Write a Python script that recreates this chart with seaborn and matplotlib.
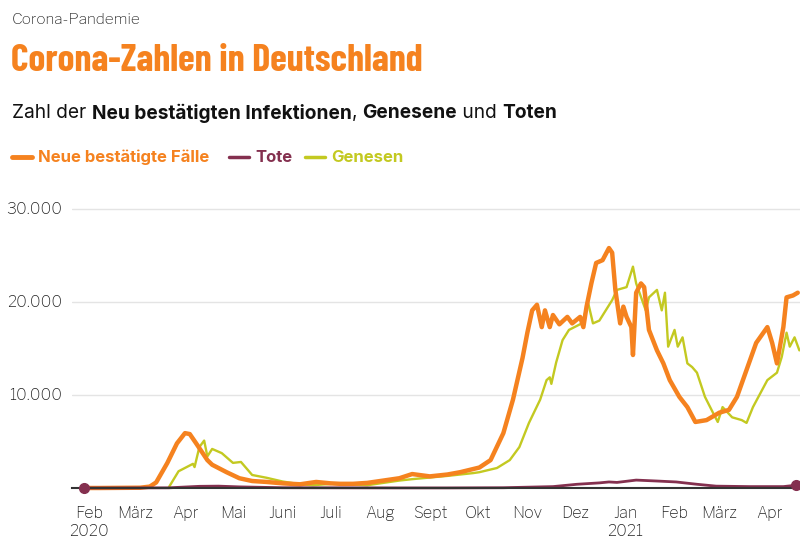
import matplotlib
matplotlib.use("Agg")
import matplotlib.pyplot as plt
from matplotlib.transforms import IdentityTransform
from matplotlib.lines import Line2D
import pandas as pd
import seaborn as sns

# Neue bestätigte Fälle (7-Tage-Mittel)
faelle_datum = [
    "2020-01-29", "2020-02-08", "2020-03-04", "2020-03-10", "2020-03-14", "2020-03-21",
    "2020-03-27", "2020-04-01", "2020-04-04", "2020-04-08", "2020-04-15", "2020-04-18",
    "2020-04-27", "2020-05-05", "2020-05-13", "2020-05-22", "2020-06-01", "2020-06-12",
    "2020-06-22", "2020-07-01", "2020-07-07", "2020-07-15", "2020-07-24", "2020-08-01",
    "2020-08-13", "2020-08-21", "2020-09-01", "2020-09-12", "2020-09-20", "2020-10-02",
    "2020-10-09", "2020-10-17", "2020-10-23", "2020-10-29", "2020-11-01", "2020-11-04",
    "2020-11-07", "2020-11-10", "2020-11-12", "2020-11-15", "2020-11-17", "2020-11-21",
    "2020-11-26", "2020-11-29", "2020-12-04", "2020-12-06", "2020-12-08", "2020-12-11",
    "2020-12-14", "2020-12-18", "2020-12-22", "2020-12-24", "2020-12-26", "2020-12-29",
    "2020-12-31", "2021-01-02", "2021-01-05", "2021-01-06", "2021-01-08", "2021-01-11",
    "2021-01-13", "2021-01-16", "2021-01-21", "2021-01-25", "2021-01-29", "2021-02-04",
    "2021-02-09", "2021-02-14", "2021-02-21", "2021-03-01", "2021-03-07", "2021-03-12",
    "2021-03-18", "2021-03-24", "2021-03-31", "2021-04-03", "2021-04-06", "2021-04-10",
    "2021-04-12", "2021-04-16", "2021-04-19",
]
faelle = [
    0, 0, 30, 150, 600, 2700,
    4800, 5900, 5800, 4800, 3000, 2500,
    1700, 1050, 750, 650, 500, 400,
    650, 500, 450, 450, 550, 750,
    1050, 1500, 1250, 1450, 1700, 2200,
    3000, 5900, 9500, 14000, 16700, 19100,
    19700, 17300, 19100, 17300, 18600, 17600,
    18400, 17700, 18400, 17300, 19500, 22000,
    24200, 24500, 25800, 25300, 21300, 17700,
    19500, 18400, 17300, 14300, 21000, 22000,
    21600, 17000, 14800, 13400, 11600, 9800,
    8700, 7100, 7300, 8100, 8400, 9800,
    12700, 15600, 17300, 15600, 13400, 17300,
    20500, 20700, 21000,
]

# Genesene
genesen_datum = [
    "2020-03-22", "2020-03-28", "2020-04-06", "2020-04-07", "2020-04-10", "2020-04-13",
    "2020-04-15", "2020-04-18", "2020-04-24", "2020-05-01", "2020-05-06", "2020-05-13",
    "2020-05-22", "2020-06-01", "2020-06-12", "2020-06-20", "2020-07-02", "2020-07-24",
    "2020-08-01", "2020-08-13", "2020-08-21", "2020-09-12", "2020-09-28", "2020-10-02",
    "2020-10-13", "2020-10-21", "2020-10-27", "2020-11-02", "2020-11-09", "2020-11-13",
    "2020-11-15", "2020-11-16", "2020-11-19", "2020-11-23", "2020-11-27", "2020-12-05",
    "2020-12-09", "2020-12-12", "2020-12-16", "2020-12-24", "2020-12-27", "2021-01-02",
    "2021-01-06", "2021-01-08", "2021-01-14", "2021-01-16", "2021-01-21", "2021-01-24",
    "2021-01-26", "2021-01-28", "2021-02-01", "2021-02-03", "2021-02-06", "2021-02-09",
    "2021-02-12", "2021-02-15", "2021-02-20", "2021-02-25", "2021-02-28", "2021-03-03",
    "2021-03-09", "2021-03-15", "2021-03-18", "2021-03-22", "2021-03-31", "2021-04-06",
    "2021-04-09", "2021-04-12", "2021-04-14", "2021-04-17", "2021-04-20",
]
genesen = [
    100, 1800, 2600, 2250, 4400, 5100,
    3400, 4200, 3750, 2700, 2800, 1400,
    1100, 700, 400, 300, 450, 300,
    500, 800, 950, 1300, 1600, 1700,
    2150, 3000, 4400, 7000, 9500, 11600,
    11900, 11200, 13500, 15900, 17000, 17700,
    19900, 17700, 18000, 20200, 21300, 21600,
    23800, 22000, 19100, 20500, 21300, 19100,
    21000, 15200, 17000, 15200, 16200, 13400,
    13000, 12400, 9800, 8100, 7100, 8700,
    7600, 7300, 7000, 8700, 11600, 12400,
    14100, 16700, 15200, 16200, 14800,
]

# Tote
tote_datum = [
    "2020-01-29", "2020-03-22", "2020-04-10", "2020-04-22", "2020-05-05", "2020-06-01",
    "2020-08-13", "2020-09-12", "2020-10-17", "2020-11-17", "2020-12-02", "2020-12-16",
    "2020-12-22", "2020-12-27", "2021-01-08", "2021-01-21", "2021-02-02", "2021-02-15",
    "2021-02-27", "2021-03-20", "2021-04-10", "2021-04-18",
]
tote = [
    0, 20, 180, 200, 120, 30,
    10, 10, 30, 150, 400, 550,
    650, 600, 850, 750, 650, 400,
    200, 150, 150, 300,
]

monate = ["Feb\n2020", "März", "Apr", "Mai", "Juni", "Juli", "Aug", "Sept", "Okt",
          "Nov", "Dez", "Jan\n2021", "Feb", "März", "Apr"]
y_ticks = [10000, 20000, 30000]
y_labels = ["10.000", "20.000", "30.000"]

ORANGE = "#f5821f"
TOTE = "#84304f"
GRUEN = "#c3c921"
DUNKEL = "#333333"

sns.set_style("white")
plt.rcParams['font.family'] = ['Libre Franklin', 'DejaVu Sans']
TITEL_FONT = ['Barlow Condensed', 'Roboto Condensed', 'DejaVu Sans']
TEXT_FONT = ['Inter', 'Roboto', 'DejaVu Sans']

fig = plt.figure(figsize=(8, 5.47), dpi=100)
ax = fig.add_axes([72 / 800, 59 / 547, 728 / 800, 288 / 547])

serien = [
    (genesen_datum, genesen, GRUEN, 1.7),
    (faelle_datum, faelle, ORANGE, 3.2),
    (tote_datum, tote, TOTE, 2.0),
]
for datum, werte, farbe, lw in serien:
    df = pd.DataFrame({"datum": pd.to_datetime(datum), "wert": werte})
    sns.lineplot(data=df, x="datum", y="wert", color=farbe, lw=lw, ax=ax, clip_on=False)

t = pd.to_datetime(tote_datum)
ax.plot([t[0], t[-1]], [tote[0], tote[-1]], "o", color=TOTE, ms=7, clip_on=False, zorder=5)

x0 = pd.Timestamp("2020-02-01")
ax.set_xlim(x0 + pd.Timedelta(days=-10.6), x0 + pd.Timedelta(days=444.4))
ax.set_ylim(0, 30968)

ax.set_yticks(y_ticks)
ax.set_yticklabels(y_labels)
ax.set_xticks(pd.date_range("2020-02-01", "2021-04-01", freq="MS"))
ax.set_xticklabels(monate, linespacing=1.25)
ax.set_xlabel("")
ax.set_ylabel("")

ax.grid(axis="y", color="#e4e4e4", lw=1)
ax.grid(axis="x", visible=False)
ax.set_axisbelow(True)
for s in ["left", "right", "top"]:
    ax.spines[s].set_visible(False)
ax.spines["bottom"].set_color(DUNKEL)
ax.spines["bottom"].set_linewidth(1.5)

ax.tick_params(axis="x", length=6, width=1.2, color=DUNKEL, pad=7, labelsize=11.5, labelcolor="#222222")
ax.tick_params(axis="y", length=0, pad=7, labelsize=11.5, labelcolor="#222222")
for lab in ax.get_yticklabels():
    lab.set_verticalalignment("center")

# Kopfzeilen in Pixelkoordinaten
H = 547
ident = IdentityTransform()
renderer = fig.canvas.get_renderer()

fig.text(12, H - 20, "Corona-Pandemie", transform=ident, fontsize=11, color="#222222", va="center")
fig.text(11, H - 61, "Corona-Zahlen in Deutschland", transform=ident, fontsize=27.4,
         fontweight="bold", color=ORANGE, va="center", family=TITEL_FONT)


def zeile(x, y, teile, size):
    for text, weight, farbe in teile:
        tx = fig.text(x, y, text, transform=ident, fontsize=size, fontweight=weight,
                      color=farbe, va="center", family=TEXT_FONT)
        x += tx.get_window_extent(renderer).width
    return x


zeile(12, H - 113, [
    ("Zahl der ", "normal", "#111111"),
    ("Neu bestätigten Infektionen", "bold", "#111111"),
    (", ", "normal", "#111111"),
    ("Genesene", "bold", "#111111"),
    (" und ", "normal", "#111111"),
    ("Toten", "bold", "#111111"),
], 13.75)

legende = [("Neue bestätigte Fälle", ORANGE, 12, 3.5), ("Tote", TOTE, 229, 2.5), ("Genesen", GRUEN, 305, 2.5)]
for name, farbe, lx, lw in legende:
    fig.add_artist(Line2D([lx, lx + 20], [H - 157, H - 157], transform=ident, color=farbe, lw=lw))
    fig.text(lx + 26, H - 157, name, transform=ident, fontsize=12, fontweight="bold",
             color=farbe, va="center", family=TEXT_FONT)

fig.savefig("out.png", dpi=100)
